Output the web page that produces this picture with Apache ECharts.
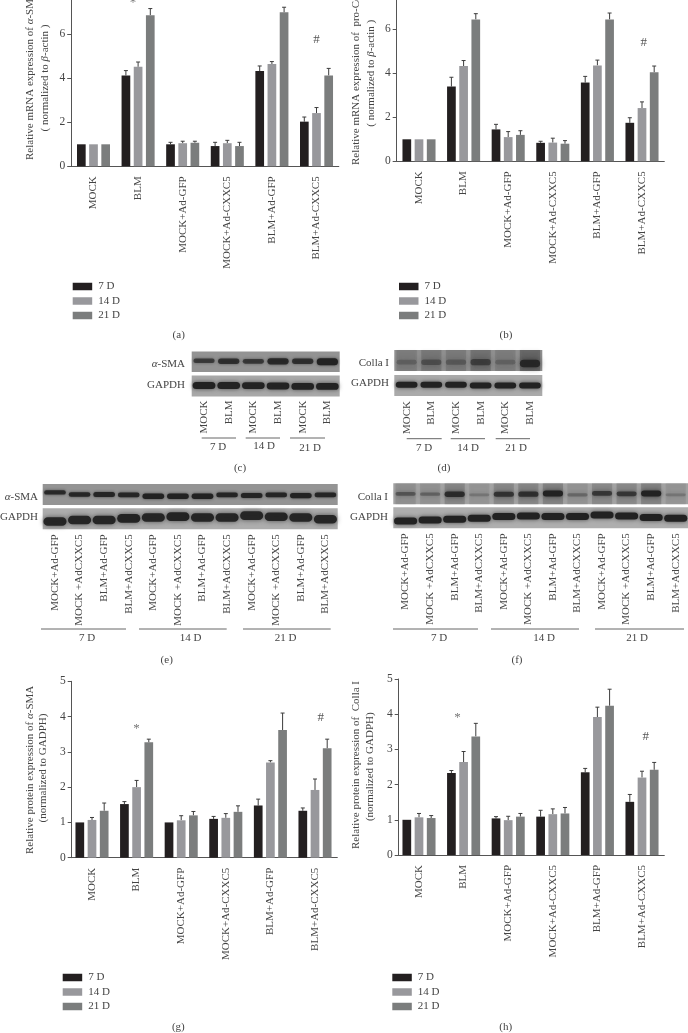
<!DOCTYPE html>
<html><head><meta charset="utf-8">
<style>html,body{margin:0;padding:0;background:#fff}#c{width:688px;height:1033px;filter:blur(.4px)}</style>
<script src="https://cdn.jsdelivr.net/npm/echarts@6/dist/echarts.min.js"></script>
</head><body><div id="c"></div>
<script>
// ---------- data ----------
const groups = ['MOCK','BLM','MOCK+Ad-GFP','MOCK+Ad-CXXC5','BLM+Ad-GFP','BLM+Ad-CXXC5'];
const days = ['7 D','14 D','21 D'];
const a7  = [1,4.13,1.0,0.92,4.33,2.03];
const a14 = [1,4.52,1.05,1.05,4.65,2.42];
const a21 = [1,6.87,1.07,0.92,7.0,4.13];
const aTop7  = [0,4.35,1.09,1.09,4.56,2.24];
const aTop14 = [0,4.74,1.14,1.18,4.76,2.67];
const aTop21 = [0,7.17,1.14,1.09,7.23,4.45];
const b7  = [1,3.4,1.45,0.84,3.58,1.75];
const b14 = [1,4.33,1.1,0.85,4.36,2.42];
const b21 = [1,6.45,1.2,0.8,6.45,4.05];
const bTop7  = [0,3.82,1.68,0.91,3.86,1.98];
const bTop14 = [0,4.58,1.35,1.05,4.6,2.7];
const bTop21 = [0,6.71,1.39,0.94,6.74,4.33];
const g7  = [1,1.52,1.0,1.1,1.48,1.33];
const g14 = [1.07,2.0,1.06,1.13,2.7,1.92];
const g21 = [1.33,3.27,1.2,1.3,3.62,3.1];
const gTop7  = [0,1.59,0,1.17,1.66,1.41];
const gTop14 = [1.14,2.19,1.19,1.25,2.75,2.23];
const gTop21 = [1.55,3.36,1.31,1.47,4.1,3.36];
const h7  = [1,2.33,1.04,1.09,2.35,1.51];
const h14 = [1.07,2.64,0.99,1.16,3.92,2.2];
const h21 = [1.05,3.37,1.09,1.18,4.24,2.42];
const hTop7  = [0,2.4,1.09,1.27,2.46,1.72];
const hTop14 = [1.18,2.94,1.1,1.31,4.2,2.38];
const hTop21 = [1.12,3.74,1.18,1.35,4.71,2.63];
// blot lanes
const lanes2 = ['MOCK','BLM','MOCK','BLM','MOCK','BLM'];
const lanes4 = ['MOCK+Ad-GFP','MOCK +AdCXXC5','BLM+Ad-GFP','BLM+AdCXXC5','MOCK+Ad-GFP','MOCK +AdCXXC5','BLM+Ad-GFP','BLM+AdCXXC5','MOCK+Ad-GFP','MOCK +AdCXXC5','BLM+Ad-GFP','BLM+AdCXXC5'];
// band strength (0-1) and band height in the strip (0 bottom, 1 top)
const cSma = [.5,.7,.55,.85,.7,1];
const cSmaPos = [.55,.52,.52,.52,.52,.5];
const cGapdh = [1,1,.95,.95,.95,.95];
const cGapdhPos = [.52,.52,.52,.5,.48,.48];
const dColla = [.22,.38,.28,.55,.2,.9];
const dCollaPos = [.42,.42,.42,.42,.42,.36];
const dGapdh = [1,1,1,1,1,1];
const dGapdhPos = [.54,.54,.54,.5,.5,.5];
const eSma = [.75,.8,.9,.8,1,1,1,.85,.9,.85,.95,.85];
const eSmaPos = [.6,.5,.5,.48,.42,.42,.42,.48,.45,.48,.45,.48];
const eGapdh = [.9,.9,.9,.95,.9,.95,.9,.9,.9,.9,.9,.9];
const eGapdhPos = [.37,.44,.44,.52,.56,.6,.56,.56,.65,.6,.56,.48];
const fColla = [.42,.32,.85,.18,.75,.8,1,.28,.7,.7,1,.18];
const fCollaPos = [.5,.48,.48,.45,.48,.48,.52,.45,.52,.5,.52,.45];
const fGapdh = [1,1,1,1,1,1,1,1,1,1,1,1];
const fGapdhPos = [.35,.4,.43,.48,.56,.59,.56,.56,.63,.59,.52,.48];

// ---------- helpers ----------
const FONT = '"Liberation Serif","Times New Roman",serif';
const INK = '#444';
const COLORS = ['#231f20','#98989c','#7b7d7d'];
const grid = [], xAxis = [], yAxis = [], series = [], graphic = [], legend = [];

function text(x, y, str, o) {
  o = o || {};
  graphic.push({ type:'text', x, y, rotation:o.rot||0, silent:true, z:50,
    style:{ text:str, fill:o.fill||INK, font:(o.size||11)+'px '+FONT,
      textAlign:o.align||'center', textVerticalAlign:'middle',
      rich:{ i:{ fontStyle:'italic', fontSize:o.size||11, fontFamily:FONT, fill:o.fill||INK, fontWeight:'normal' },
             n:{ fontSize:o.size||11, fontFamily:FONT, fill:o.fill||INK } } } });
}
function rule(x1, x2, y) {
  graphic.push({ type:'line', silent:true, shape:{x1,y1:y,x2,y2:y}, style:{stroke:'#666',lineWidth:1} });
}

function panel(cfg) {
  const gi = grid.length;
  const h = cfg.pxPerUnit * cfg.max;
  grid.push({ left:cfg.left, top:cfg.zeroY - h, width:267.6, height:h, containLabel:false, outerBoundsMode:'none' });
  xAxis.push({ type:'category', gridIndex:gi, data:groups,
    axisLine:{ onZero:false, lineStyle:{color:'#555',width:1} },
    axisTick:{ alignWithLabel:true, length:5, lineStyle:{color:'#555'} },
    axisLabel:{ rotate:90, interval:0, margin:10, fontSize:11, color:INK, fontFamily:FONT } });
  yAxis.push({ type:'value', gridIndex:gi, min:0, max:cfg.max, interval:cfg.interval, offset:cfg.yOffset||0,
    splitLine:{show:false},
    axisLine:{ show:true, lineStyle:{color:'#555',width:1} },
    axisTick:{ show:true, length:4, lineStyle:{color:'#555'} },
    axisLabel:{ margin:6, fontSize:11.5, color:INK, fontFamily:FONT } });
  days.forEach((d,i) => {
    series.push({ type:'bar', name:d, xAxisIndex:gi, yAxisIndex:gi, data:cfg.vals[i],
      barWidth:8.7, barGap:'40%', itemStyle:{color:COLORS[i]}, animation:false, z:3 });
  });
  days.forEach((d,i) => {
    series.push({ type:'custom', name:'err'+i, xAxisIndex:gi, yAxisIndex:gi, animation:false, silent:true, z:2,
      clip:false,
      data:cfg.vals[i].map((v,k)=>[k,v,cfg.tops[i][k]]),
      renderItem(params, api) {
        const top = api.value(2);
        if (!top) return null;
        const band = api.size([1,0])[0];
        const dx = (i-1)*band*0.2735;
        const p0 = api.coord([api.value(0), api.value(1)]);
        const p1 = api.coord([api.value(0), top]);
        const x = p0[0]+dx;
        return { type:'group', children:[
          { type:'line', shape:{x1:x,y1:p0[1],x2:x,y2:p1[1]}, style:{stroke:'#3c3c3c',lineWidth:1} },
          { type:'line', shape:{x1:x-2,y1:p1[1],x2:x+2,y2:p1[1]}, style:{stroke:'#3c3c3c',lineWidth:1} } ]};
      } });
  });
  series.push({ type:'custom', name:'marks', xAxisIndex:gi, yAxisIndex:gi, animation:false, silent:true, z:6, clip:false,
    data:cfg.marks.map(m=>[m[1],m[2]]),
    renderItem(params, api) {
      const m = cfg.marks[params.dataIndex];
      const p = api.coord([api.value(0), api.value(1)]);
      return { type:'text', x:p[0]+m[3], y:p[1], style:{ text:m[0], font:'13px '+FONT,
        fill:m[0]==='#'?'#555':'#777', textAlign:'center', textVerticalAlign:m[0]==='#'?'middle':'top' } };
    } });
  legend.push({ orient:'vertical', left:cfg.legendX, top:cfg.legendY, padding:0, data:days, icon:'rect',
    itemWidth:19.5, itemHeight:7.5, itemGap:3.5, selectedMode:false,
    textStyle:{ fontSize:11, color:INK, fontFamily:FONT, padding:[0,0,0,1] } });
}

function strip(o) {
  const gi = grid.length;
  grid.push({ left:o.x, top:o.y, width:o.w, height:o.h, show:true, backgroundColor:o.bg, borderWidth:0, outerBoundsMode:'none' });
  xAxis.push({ type:'category', gridIndex:gi, data:o.lanes, show:!!o.labels,
    axisLine:{show:false}, axisTick:{show:false},
    axisLabel:{ rotate:90, interval:0, margin:o.margin||4, fontSize:o.labelSize||11, color:INK, fontFamily:FONT } });
  yAxis.push({ type:'value', gridIndex:gi, min:0, max:1, show:false, splitLine:{show:false} });
  series.push({ type:'custom', name:'blot'+gi, xAxisIndex:gi, yAxisIndex:gi, animation:false, silent:true, z:3,
    data:o.s.map((v,k)=>[k,o.p[k],v]),
    renderItem(params, api) {
      const s = api.value(2);
      const c = api.coord([api.value(0), api.value(1)]);
      const band = api.size([1,0])[0];
      const w = band*o.wf, ht = o.hMin + o.hVar*s;
      const kids = [];
      if (o.smear) kids.push({ type:'rect', shape:{x:c[0]-w/2,y:o.y,width:w,height:o.h},
        style:{fill:'rgba(30,30,30,'+(o.smear*(0.3+s))+')', shadowBlur:3, shadowColor:'rgba(30,30,30,.3)'} });
      kids.push({ type:'rect', shape:{x:c[0]-w/2,y:c[1]-ht/2,width:w,height:ht,r:ht/2},
        style:{fill:'rgba(34,34,34,'+(o.aMin+(1-o.aMin)*s)+')', shadowBlur:o.blur||3, shadowColor:'rgba(30,30,30,.7)'} });
      return { type:'group', children:kids };
    } });
}

// ---------- panels ----------
panel({ left:71.2, zeroY:166.3, pxPerUnit:22, max:8, interval:2,
  vals:[a7,a14,a21], tops:[aTop7,aTop14,aTop21],
  marks:[['*',1,7.75,-5],['#',5,5.77,0]], legendX:72.7, legendY:281 });
panel({ left:396.7, zeroY:161.3, pxPerUnit:22, max:8, interval:2,
  vals:[b7,b14,b21], tops:[bTop7,bTop14,bTop21],
  marks:[['#',5,5.39,1.7]], legendX:399, legendY:281 });
panel({ left:69.7, zeroY:857.7, pxPerUnit:35.28, max:5, interval:1, yOffset:-2,
  vals:[g7,g14,g21], tops:[gTop7,gTop14,gTop21],
  marks:[['*',1,3.85,0],['#',5,3.97,5.7]], legendX:62.7, legendY:972 });
panel({ left:396.7, zeroY:855, pxPerUnit:35.2, max:5, interval:1, yOffset:-2,
  vals:[h7,h14,h21], tops:[hTop7,hTop14,hTop21],
  marks:[['*',1,4.1,-6],['#',5,3.36,3.7]], legendX:392.3, legendY:972 });

// blots c, d
strip({ x:191.7,y:351.5,w:148,h:20.5,bg:'#939393',lanes:lanes2,s:cSma,p:cSmaPos,wf:.86,hMin:2,hVar:5,aMin:.35,blur:3 });
strip({ x:191.7,y:375.5,w:148,h:21,bg:'#a8a8a8',lanes:lanes2,s:cGapdh,p:cGapdhPos,wf:.92,hMin:4,hVar:3,aMin:.6,blur:4,labels:true });
strip({ x:394.3,y:350,w:148,h:21,bg:'#8f8f8f',lanes:lanes2,s:dColla,p:dCollaPos,wf:.82,hMin:4,hVar:4,aMin:.05,blur:6,smear:.25 });
strip({ x:394.3,y:375,w:148,h:21,bg:'#aaaaaa',lanes:lanes2,s:dGapdh,p:dGapdhPos,wf:.88,hMin:3,hVar:3,aMin:.6,blur:4,labels:true,margin:5 });
// blots e, f
strip({ x:42.7,y:484,w:295,h:21,bg:'#949494',lanes:lanes4,s:eSma,p:eSmaPos,wf:.88,hMin:1,hVar:4.5,aMin:.6,blur:3 });
strip({ x:42.7,y:508.3,w:295,h:21,bg:'#adadad',lanes:lanes4,s:eGapdh,p:eGapdhPos,wf:.94,hMin:5,hVar:4,aMin:.55,blur:5,labels:true,margin:5 });
strip({ x:393.3,y:483.3,w:294.7,h:21,bg:'#a2a2a2',lanes:lanes4,s:fColla,p:fCollaPos,wf:.82,hMin:2,hVar:4,aMin:.05,blur:4,smear:.16 });
strip({ x:393.3,y:507.3,w:294.7,h:21,bg:'#aeaeae',lanes:lanes4,s:fGapdh,p:fGapdhPos,wf:.94,hMin:3.5,hVar:3.5,aMin:.6,blur:4,labels:true,margin:5 });

// axis titles
text(30,160,'Relative mRNA expression of {i|α}-SMA',{rot:Math.PI/2,align:'left'});
text(45,78,'( normalized to {i|β}-actin )',{rot:Math.PI/2});
text(356,165,'Relative mRNA expression of  pro-Collagen I',{rot:Math.PI/2,align:'left'});
text(370.7,73.3,'( normalized to {i|β}-actin )',{rot:Math.PI/2});
text(30,854,'Relative protein expression of {i|α}-SMA',{rot:Math.PI/2,align:'left'});
text(43.3,768,'(normalized to GADPH)',{rot:Math.PI/2});
text(355.7,849,'Relative protein expression of  Colla I',{rot:Math.PI/2,align:'left'});
text(369.7,766.7,'(normalized to GADPH)',{rot:Math.PI/2});

// blot names
text(185,364,'{i|α}-SMA',{align:'right'});
text(185,385,'GAPDH',{align:'right'});
text(389,362.7,'Colla I',{align:'right'});
text(389,383,'GAPDH',{align:'right'});
text(38,497,'{i|α}-SMA',{align:'right'});
text(38,516.7,'GAPDH',{align:'right'});
text(388,496.7,'Colla I',{align:'right'});
text(388,517,'GAPDH',{align:'right'});

// day brackets
[[201.7,236,218,447,438],[245.7,280,264,446,438],[290,325,310,448,438],
 [406.7,441.7,424,448,438.7],[450.7,485,468,448,438.7],[495.7,530,516,448,438.7],
 [41,126,87,638,629],[139,226.7,190.7,638,629],[243,330.7,285.7,638,629],
 [393,478,439,638,629],[491,579,544,638,629],[595,684,637,638,629]].forEach((r,i)=>{
  rule(r[0],r[1],r[4]);
  text(r[2],r[3],days[i%3]);
});

// captions
[['(a)',178.7,335],['(b)',506,335],['(c)',240,468],['(d)',444,468],
 ['(e)',166.7,660],['(f)',517,660],['(g)',178.3,1027],['(h)',505.7,1027]].forEach(c=>text(c[1],c[2],c[0]));

const chart = echarts.init(document.getElementById('c'), null, {renderer:'canvas', width:688, height:1033});
chart.setOption({ animation:false, backgroundColor:'#fff',
  textStyle:{fontFamily:FONT}, grid, xAxis, yAxis, series, legend, graphic });
</script></body></html>
